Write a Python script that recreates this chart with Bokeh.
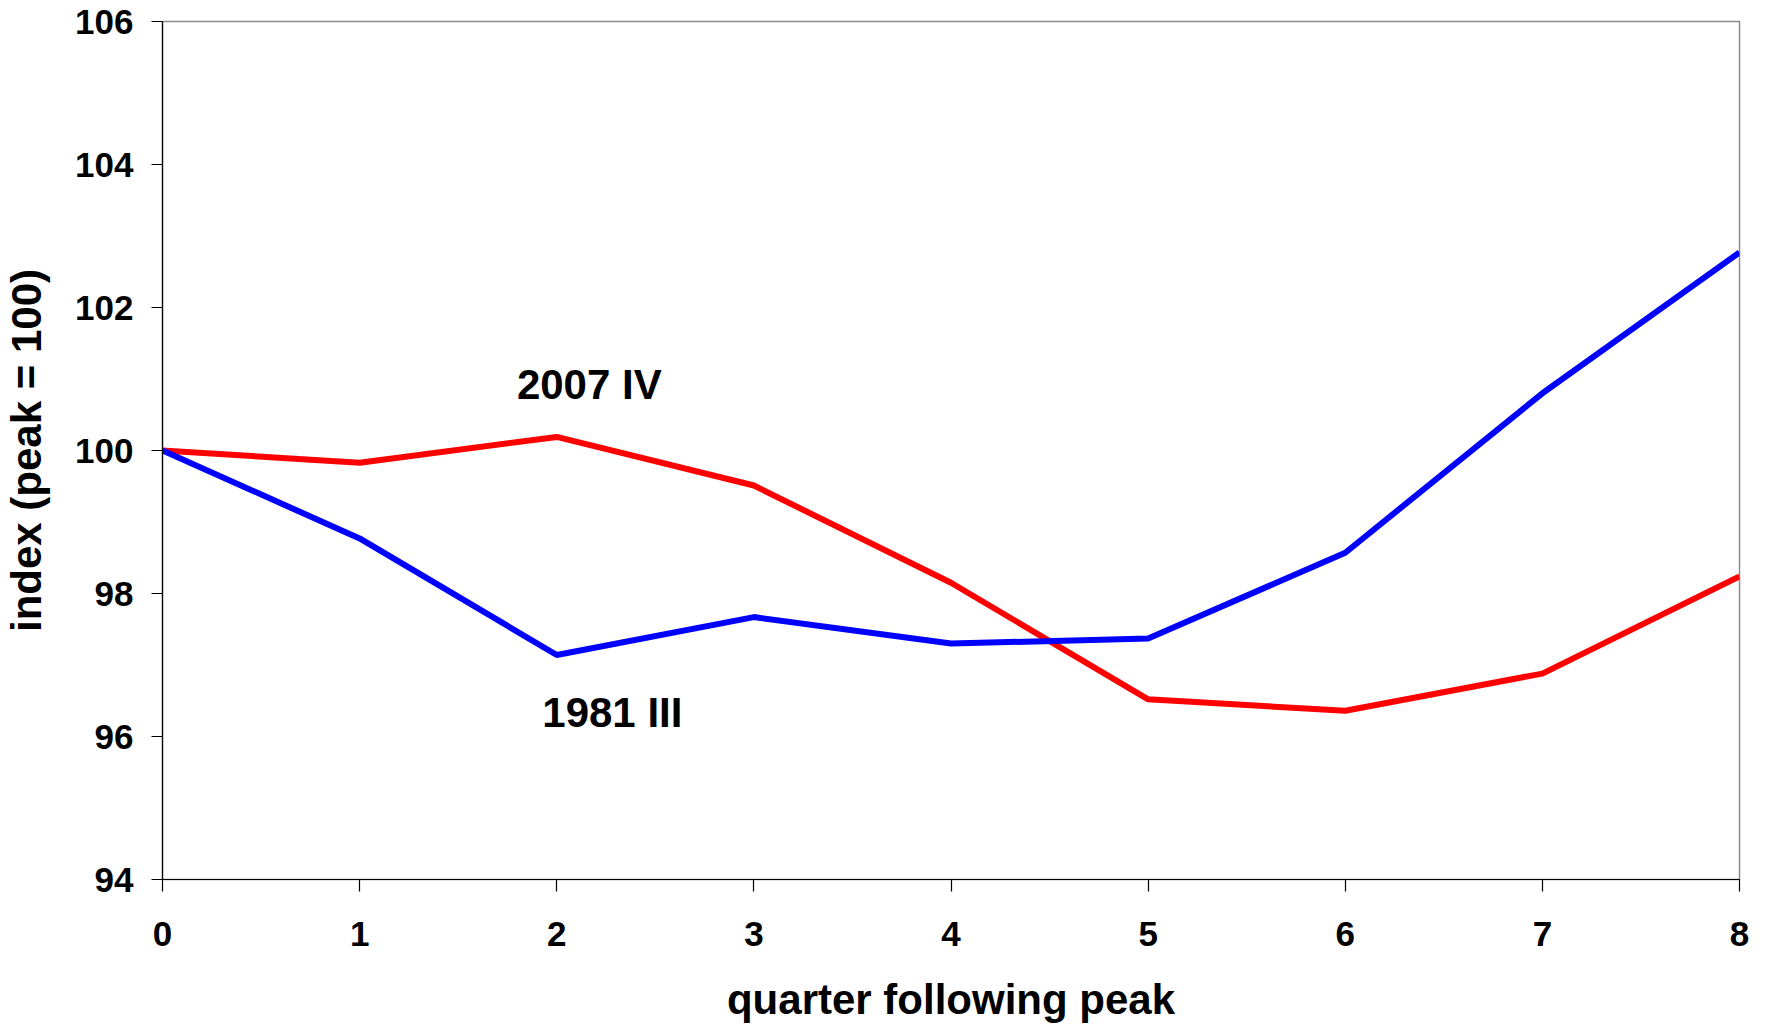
from bokeh.plotting import figure
from bokeh.models import Range1d, FixedTicker, Label
from bokeh.embed import file_html
from bokeh.resources import INLINE

# ---- data ----
quarters = [0, 1, 2, 3, 4, 5, 6, 7, 8]
rec_2007_iv = [100.0, 99.83, 100.19, 99.51, 98.15, 96.52, 96.36, 96.88, 98.24]
rec_1981_iii = [100.0, 98.77, 97.14, 97.67, 97.30, 97.37, 98.57, 100.80, 102.77]
y_ticks = [94, 96, 98, 100, 102, 104, 106]
x_ticks = [0, 1, 2, 3, 4, 5, 6, 7, 8]
series_labels = ["2007 IV", "1981 III"]

FONT = "Liberation Sans"

p = figure(
    width=1755, height=1025,
    x_range=Range1d(0, 8), y_range=Range1d(94, 106),
    output_backend="svg", toolbar_location=None,
    min_border_left=158, min_border_right=16,
    min_border_top=21, min_border_bottom=142,
    background_fill_color="white", border_fill_color="white",
)

p.outline_line_color = "#8c8c8c"
p.outline_line_width = 1.5
p.xgrid.visible = False
p.ygrid.visible = False

p.line(quarters, rec_2007_iv, line_color="#ff0000", line_width=6)
p.line(quarters, rec_1981_iii, line_color="#0000ff", line_width=6)

for ax in (p.xaxis[0], p.yaxis[0]):
    ax.axis_line_color = "black"
    ax.axis_line_width = 1.2
    ax.major_tick_line_color = "black"
    ax.major_tick_line_width = 1.2
    ax.major_tick_in = 0
    ax.minor_tick_line_color = None
    ax.major_label_text_font = FONT
    ax.major_label_text_font_style = "bold"
    ax.major_label_text_font_size = "35px"
    ax.major_label_text_color = "black"
    ax.axis_label_text_font = FONT
    ax.axis_label_text_font_style = "bold"
    ax.axis_label_text_font_size = "42px"
    ax.axis_label_text_color = "black"

p.xaxis.ticker = FixedTicker(ticks=x_ticks)
p.yaxis.ticker = FixedTicker(ticks=y_ticks)
p.xaxis.major_tick_out = 12
p.yaxis.major_tick_out = 11
p.xaxis.major_label_standoff = 30
p.yaxis.major_label_standoff = 18
p.xaxis.axis_label = "quarter following peak"
p.yaxis.axis_label = "index (peak = 100)"
p.xaxis.axis_label_standoff = 27
p.yaxis.axis_label_standoff = 22

label_pos = [(2.165, 100.93), (2.282, 96.33)]
for txt, (lx, ly) in zip(series_labels, label_pos):
    p.add_layout(Label(x=lx, y=ly, text=txt, text_align="center",
                       text_baseline="alphabetic", text_font=FONT,
                       text_font_style="bold", text_font_size="42px",
                       text_color="black"))

open("out.html", "w").write(file_html(p, INLINE))
